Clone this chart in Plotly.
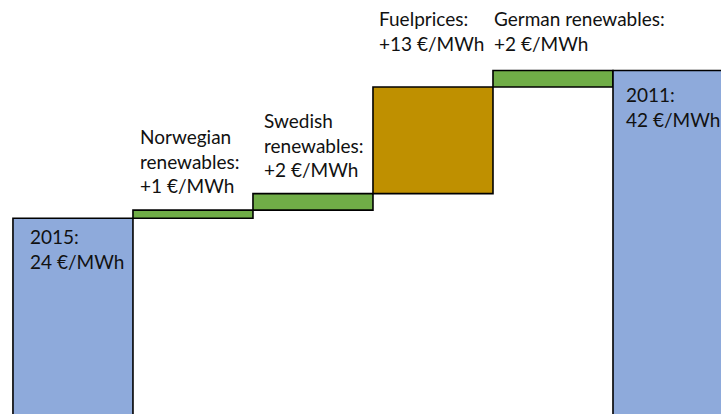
import plotly.graph_objects as go

# Price bridge from 2015 to 2011, in €/MWh
steps = ["2015", "Norwegian renewables", "Swedish renewables", "Fuelprices",
         "German renewables", "2011"]
start_price = 24
deltas = [1, 2, 13, 2]
end_price = 42

label_text = [
    "2015:<br>{} €/MWh".format(start_price),
    "Norwegian<br>renewables:<br>+{} €/MWh".format(deltas[0]),
    "Swedish<br>renewables:<br>+{} €/MWh".format(deltas[1]),
    "Fuelprices:<br>+{} €/MWh".format(deltas[2]),
    "German renewables:<br>+{} €/MWh".format(deltas[3]),
    "{}:<br>{} €/MWh".format(steps[-1], end_price),
]

BLUE = "#8EAADB"
GREEN = "#70AD47"
GOLD = "#BF9000"

# running totals for the floating steps
bases = []
level = start_price
for d in deltas:
    bases.append(level)
    level += d

xs = list(range(len(steps)))
heights = [start_price] + deltas + [end_price]
base_vals = [0] + bases + [0]
colors = [BLUE, GREEN, GREEN, GOLD, GREEN, BLUE]

fig = go.Figure(go.Bar(
    x=xs,
    y=heights,
    base=base_vals,
    width=1.0,
    marker=dict(color=colors, line=dict(color="#000000", width=1.6)),
    hoverinfo="skip",
))

# label anchors (pixel positions of each text block's top-left corner)
label_pos = [(28, 223), (138, 123), (262, 107), (377, 5), (492, 5), (624, 81)]
W, H = 721, 414
for txt, (px, py) in zip(label_text, label_pos):
    fig.add_annotation(
        x=px / W, y=1 - py / H, xref="paper", yref="paper",
        xanchor="left", yanchor="top", align="left",
        text=txt, showarrow=False,
        font=dict(family="Lato", size=19, color="#111111"),
    )

fig.update_layout(
    width=W, height=H,
    margin=dict(l=0, r=0, t=0, b=0),
    paper_bgcolor="white", plot_bgcolor="white",
    showlegend=False,
    xaxis=dict(range=[-0.608, 5.4], visible=False, fixedrange=True),
    yaxis=dict(range=[0.15, 50.6], visible=False, fixedrange=True),
)

fig.write_html("out.html")
